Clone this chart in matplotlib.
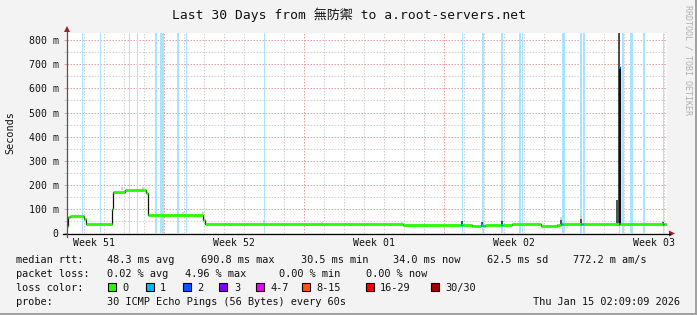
import matplotlib
matplotlib.use("Agg")
import matplotlib.pyplot as plt
from matplotlib.lines import Line2D
from matplotlib.patches import Rectangle, Polygon

plt.rcParams['font.family'] = ['DejaVu Sans Mono', 'Noto Sans CJK TC']

W, H = 697, 315

# median rtt as steps: start (days since start of window), value (ms), lost pings
med_start = [0.00, 0.05, 0.15, 0.85, 0.95, 2.25, 2.30, 2.90, 3.95, 4.05,
             6.80, 6.90, 16.80, 19.72, 19.78, 20.25, 20.72, 20.78, 20.90, 21.72,
             21.78, 22.25, 23.70, 24.50, 24.72, 24.78, 25.72, 25.78, 27.60, 27.66,
             29.78, 29.84]
med_ms = [28, 65, 72, 58, 36, 100, 172, 177, 168, 73,
          55, 36, 33, 34, 33, 30.5, 32, 30.5, 33, 34,
          33, 36, 31, 33, 36, 36, 38, 36, 690.8, 36,
          36, 36]
med_loss = [0, 0, 0, 0, 0, 0, 0, 0, 0, 0,
            0, 0, 0, 1, 0, 0, 1, 0, 0, 1,
            0, 0, 0, 0, 1, 0, 1, 0, 1, 0,
            1, 0]

# steps that had packet loss (drawn as light bars over the full height)
loss_day = [0.77, 1.67, 3.12, 3.52, 4.44, 4.69, 4.79, 5.52, 5.57, 5.97,
            9.87, 19.77, 20.76, 20.80, 21.74, 22.64, 22.79, 24.76, 24.84, 25.70,
            25.84, 27.63, 27.80, 28.20, 28.28, 28.84, 29.82]

# smoke around the median: day, low, high (ms), dark or light
smoke_day = [2.73, 3.80, 5.80, 6.80, 9.85, 12.75, 16.75, 19.75, 20.75, 21.75,
             24.72, 24.72, 25.72, 25.72, 27.52, 27.62, 29.80]
smoke_lo = [180, 180, 78, 78, 40, 38, 38, 30, 30, 30,
            30, 56, 30, 58, 30, 30, 30]
smoke_hi = [192, 190, 86, 86, 52, 46, 45, 50, 46, 50,
            56, 68, 58, 70, 135, 830, 45]
smoke_dark = [0, 0, 0, 0, 0, 0, 0, 1, 1, 1,
              1, 0, 1, 0, 1, 1, 1]

week_pos = [1.35, 8.35, 15.35, 22.35, 29.35]
week_labels = ['Week 51', 'Week 52', 'Week 01', 'Week 02', 'Week 03']

loss_names = ['0', '1', '2', '3', '4-7', '8-15', '16-29', '30/30']
loss_colors = ['#26ff00', '#00b8ff', '#0059ff', '#7e00ff', '#ee00ff', '#ff5500', '#ff0000', '#a10000']

rtt_stats = ['48.3 ms avg', '690.8 ms max', '30.5 ms min', '34.0 ms now', '62.5 ms sd', '772.2 m am/s']
pl_stats = ['0.02 % avg', '4.96 % max', '0.00 % min', '0.00 % now']


def P(x, y):
    # pixel position -> figure fraction
    return x / W, 1 - y / H


fig = plt.figure(figsize=(W / 100, H / 100), dpi=100, facecolor='#f3f3f3')
ax = fig.add_axes([67 / W, 1 - 233 / H, 600 / W, 200 / H])
ax.set_xlim(0, 30)
ax.set_ylim(0, 830)
ax.set_facecolor('white')
for s in ax.spines.values():
    s.set_visible(False)

# grid
dots = (0, (1.5, 1.5))
for k in range(30):
    d = 0.85 + k
    if (k - 4) % 7 == 0:
        ax.axvline(d, color='#e8a0a0', lw=0.72, ls=dots, zorder=1)
    else:
        ax.axvline(d, color='#cfcfcf', lw=0.72, ls=dots, zorder=1)
for v in range(50, 830, 50):
    if v % 100 == 0:
        ax.axhline(v, color='#e8a0a0', lw=0.72, ls=dots, zorder=1)
    else:
        ax.axhline(v, color='#cfcfcf', lw=0.72, ls=dots, zorder=1)

# loss bars
for d in loss_day:
    ax.axvspan(d - 0.035, d + 0.035, color='#a6e4ff', lw=0, zorder=2)

# smoke
ax.vlines(smoke_day, smoke_lo, smoke_hi,
          colors=['#222222' if k else '#c8c8c8' for k in smoke_dark],
          lw=1.1, zorder=3)

# median line
edges = med_start + [30]
ax.stairs(med_ms, edges, baseline=None, color='#111111', lw=0.9, zorder=4)
ax.hlines(med_ms, med_start, edges[1:], colors=[loss_colors[l] for l in med_loss],
          lw=2.0, zorder=5)

# ticks and labels
yt = list(range(0, 801, 100))
ax.set_yticks(yt, ['0' if v == 0 else f'{v} m' for v in yt])
ax.set_yticks(range(50, 801, 100), minor=True)
ax.tick_params(axis='y', which='major', length=2, width=0.72, color='#e8a0a0',
               pad=4.0, labelsize=7.1, labelcolor='#111111')
ax.tick_params(axis='y', which='minor', length=2, width=0.72, color='#cfcfcf')
ax.set_xticks(week_pos, week_labels)
ax.tick_params(axis='x', length=0, pad=3.6, labelsize=7.1, labelcolor='#111111')

# axes with arrows
fig.add_artist(Line2D([P(63, 0)[0], P(670, 0)[0]], [P(0, 233.5)[1]] * 2,
                      color='black', lw=0.9))
fig.add_artist(Line2D([P(67, 0)[0]] * 2, [P(0, 237)[1], P(0, 30)[1]],
                      color='#555555', lw=0.9))
fig.add_artist(Polygon([P(669, 230.5), P(669, 236.5), P(675, 233.5)],
                       closed=True, color='#a02020', lw=0))
fig.add_artist(Polygon([P(64, 32), P(70, 32), P(67, 26)],
                       closed=True, color='#a02020', lw=0))

# title and side texts
fig.text(*P(348.5, 19), 'Last 30 Days from 無防禦 to a.root-servers.net',
         ha='center', va='baseline', fontsize=9.4, color='#111111')
fig.text(*P(10, 133), 'Seconds', rotation=90, ha='center', va='center',
         fontsize=7.3, color='#111111')
fig.text(*P(688, 60), 'RRDTOOL / TOBI OETIKER', rotation=270, ha='center',
         va='center', fontsize=6.0, color='#b0b0b0')

# legend block
fs = 7.4
fig.text(*P(16, 263.3), 'median rtt:', fontsize=fs, va='baseline', color='#111111')
for x, s in zip([107.3, 200.7, 300.7, 393.3, 486.7, 572.7], rtt_stats):
    fig.text(*P(x, 263.3), s, fontsize=fs, va='baseline', color='#111111')
fig.text(*P(16, 276.7), 'packet loss:', fontsize=fs, va='baseline', color='#111111')
for x, s in zip([107.3, 185, 279.3, 365.7], pl_stats):
    fig.text(*P(x, 276.7), s, fontsize=fs, va='baseline', color='#111111')
fig.text(*P(16, 290.7), 'loss color:', fontsize=fs, va='baseline', color='#111111')
for x, name, c in zip([108.3, 145.7, 182.7, 219.3, 256, 301.7, 365.7, 431],
                      loss_names, loss_colors):
    fig.add_artist(Rectangle(P(x, 291), 8 / W, 8 / H, facecolor=c,
                             edgecolor='black', lw=0.8, transform=fig.transFigure))
    fig.text(*P(x + 14.5, 290.7), name, fontsize=fs, va='baseline', color='#111111')
fig.text(*P(16, 305), 'probe:', fontsize=fs, va='baseline', color='#111111')
fig.text(*P(107.3, 305), '30 ICMP Echo Pings (56 Bytes) every 60s',
         fontsize=fs, va='baseline', color='#111111')
fig.text(*P(680, 305), 'Thu Jan 15 02:09:09 2026', fontsize=fs, va='baseline',
         ha='right', color='#111111')

# frame
fig.add_artist(Line2D([P(0, 0)[0], P(697, 0)[0]], [P(0, 313.8)[1]] * 2,
                      color='#a0a0a0', lw=1.4))
fig.add_artist(Line2D([P(695.8, 0)[0]] * 2, [P(0, 0)[1], P(0, 315)[1]],
                      color='#a0a0a0', lw=1.4))

fig.savefig('out.png', dpi=100, facecolor=fig.get_facecolor())
